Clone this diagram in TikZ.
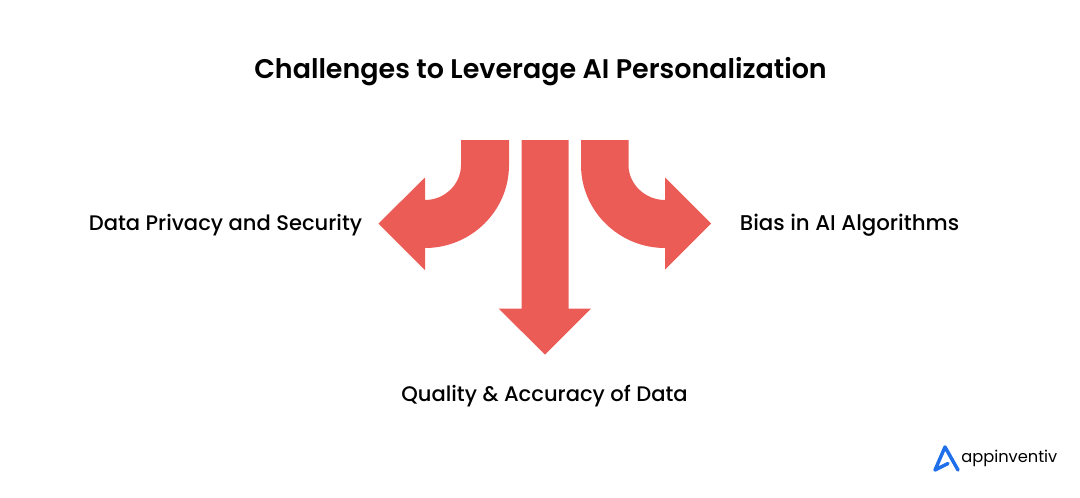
\documentclass[tikz,border=0pt]{standalone}
\usepackage{fontspec}
\setmainfont{Poppins}
\newfontfamily\titlefont{Poppins SemiBold}
\newfontfamily\labelfont{Poppins Medium}
\definecolor{arrowred}{HTML}{EC5C57}
\definecolor{logoblue}{HTML}{1F6FEB}
\tikzset{
	arrowshape/.style={fill=arrowred, draw=none},
	headline/.style={font=\fontsize{20.2pt}{24pt}\titlefont, inner sep=0pt},
	challenge/.style={font=\fontsize{15.8pt}{19pt}\labelfont, inner sep=0pt},
}
\begin{document}
\begin{tikzpicture}[x=0.75pt, y=-0.75pt]
	\useasboundingbox (0,0) rectangle (1080,497);
	% Title
	\node [headline] (title) at (540.5,71.5) {Challenges to Leverage AI Personalization};
	% Arrows
	\draw [arrowshape] (521.5,140) -- (568.5,140) -- (568.5,308.5) -- (591,308.5) -- (545,354.5) -- (498.5,308.5) -- (521.5,308.5) -- cycle;
	\draw [arrowshape] (461,140) -- (509,140) -- (509,165) .. controls (509,211) and (471,248) .. (425,248) -- (425,270) -- (378.5,223.5) -- (425,177.5) -- (425,200) .. controls (445,200) and (461,184) .. (461,165) -- cycle;
	\draw [arrowshape] (628.5,140) -- (581,140) -- (581,165) .. controls (581,211) and (619,248) .. (665,248) -- (665,269.5) -- (711,223.5) -- (665,177.5) -- (665,200) .. controls (645,200) and (628.5,184) .. (628.5,165) -- cycle;
	% Labels
	\node [challenge] (privacy) at (225.5,225) {Data Privacy and Security};
	\node [challenge] (bias) at (849.5,225) {\fontsize{16pt}{19pt}\selectfont Bias in AI Algorithms};
	\node [challenge] (quality) at (544.5,396) {Quality \& Accuracy of Data};
	% Logo
	\draw [logoblue, line width=2.6pt, line join=round, line cap=round] (958,470) -- (945,447) -- (935,470) -- (948,463.5);
	\node [font=\fontsize{12.2pt}{15pt}\selectfont, inner sep=0pt, anchor=west] (logo) at (961,458) {appinventiv};
\end{tikzpicture}
\end{document}
